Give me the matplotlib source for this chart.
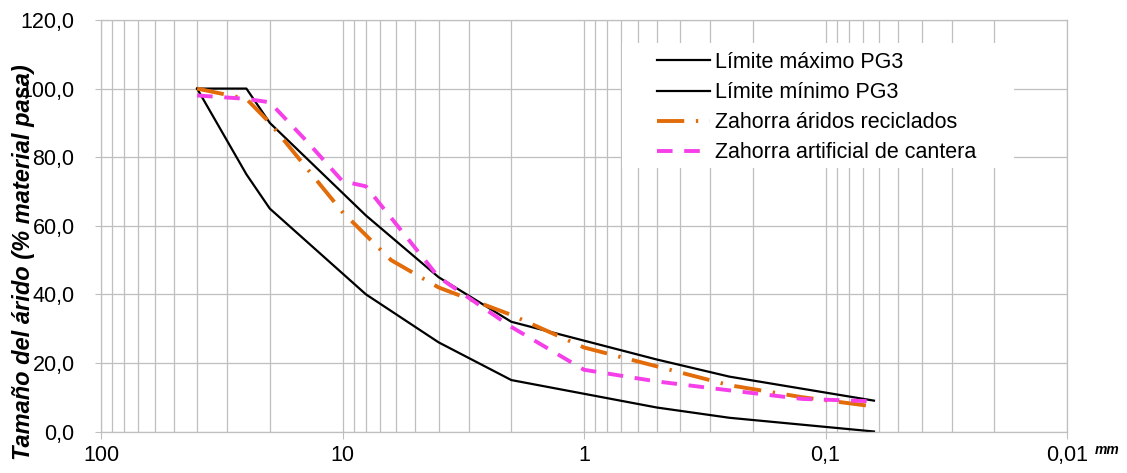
import matplotlib
matplotlib.use('Agg')
from matplotlib import pyplot as plt
from matplotlib import ticker
from matplotlib.patches import Rectangle

plt.rcParams['font.family'] = ['Liberation Sans', 'DejaVu Sans']

# sieve sizes (mm) and % passing
pg3_sizes = [40, 25, 20, 8, 4, 2, 0.5, 0.25, 0.063]
pg3_max = [100, 100, 90, 63, 45, 32, 21, 16, 9]
pg3_min = [100, 75, 65, 40, 26, 15, 7, 4, 0]

rec_sizes = [40, 25, 20, 10, 6.3, 4, 2, 1, 0.5, 0.25, 0.125, 0.063]
rec_pass = [100, 97, 90, 64, 50, 42, 34, 24.5, 19, 13.5, 10, 7.3]

cant_sizes = [40, 25, 20, 14, 10, 8, 4, 2, 1, 0.5, 0.25, 0.125, 0.063]
cant_pass = [98, 97, 96, 84.5, 73, 71.5, 45, 30.5, 18, 14.6, 12, 9.5, 8.8]

xtick_vals = [100, 10, 1, 0.1, 0.01]
xtick_labels = ['100', '10', '1', '0,1', '0,01']
ytick_vals = [0, 20, 40, 60, 80, 100, 120]
ytick_labels = ['0,0', '20,0', '40,0', '60,0', '80,0', '100,0', '120,0']

W, H = 1127, 473
fig = plt.figure(figsize=(W / 100, H / 100), dpi=100)
ax = fig.add_axes([101 / W, 1 - 431.5 / H, (1067 - 101) / W, (431.5 - 20) / H])

grid_c = '#BFBFBF'
ax.set_xscale('log')
ax.set_xlim(100, 0.01)
ax.set_ylim(0, 120)

ax.plot(pg3_sizes, pg3_max, color='black', lw=1.6, label='Límite máximo PG3')
ax.plot(pg3_sizes, pg3_min, color='black', lw=1.6, label='Límite mínimo PG3')
ax.plot(rec_sizes, rec_pass, color='#E26B0A', lw=2.8, dashes=(7, 3, 0.6, 3),
        label='Zahorra áridos reciclados')
ax.plot(cant_sizes, cant_pass, color='#F53FE8', lw=2.8, dashes=(4, 3),
        label='Zahorra artificial de cantera')

ax.set_xticks(xtick_vals)
ax.set_xticklabels(xtick_labels)
ax.xaxis.set_minor_locator(ticker.LogLocator(base=10, subs=range(2, 10), numticks=20))
ax.xaxis.set_minor_formatter(ticker.NullFormatter())
ax.set_yticks(ytick_vals)
ax.set_yticklabels(ytick_labels)

ax.grid(True, which='both', axis='x', color=grid_c, lw=0.9)
ax.grid(True, which='major', axis='y', color=grid_c, lw=0.9)
ax.set_axisbelow(True)
ax.tick_params(axis='x', which='major', length=5, color=grid_c, pad=5, labelsize=15.5)
ax.tick_params(axis='x', which='minor', length=0)
ax.tick_params(axis='y', length=4, color=grid_c, pad=15, labelsize=15.5)
for s in ax.spines.values():
    s.set_color(grid_c)
    s.set_linewidth(0.9)

fig.text(24 / W, 1 - 262 / H, 'Tamaño del árido (% material pasa)', rotation=90,
         ha='center', va='center', fontsize=17, fontweight='bold', style='italic')
fig.text(1095 / W, 1 - 450 / H, 'mm', ha='left', va='center', fontsize=10,
         fontweight='bold', style='italic')

# white box behind the legend
fig.add_artist(Rectangle((622 / W, 1 - 168 / H), (1014 - 622) / W, (168 - 43) / H,
                         transform=fig.transFigure, facecolor='white', edgecolor='none', zorder=1))
fig.legend(loc='upper left', bbox_to_anchor=(657 / W, 1 - 52 / H), frameon=False,
           fontsize=15.5, handlelength=2.45, handletextpad=0.25, labelspacing=0.42,
           borderpad=0, borderaxespad=0)

fig.savefig('out.png', dpi=100)
